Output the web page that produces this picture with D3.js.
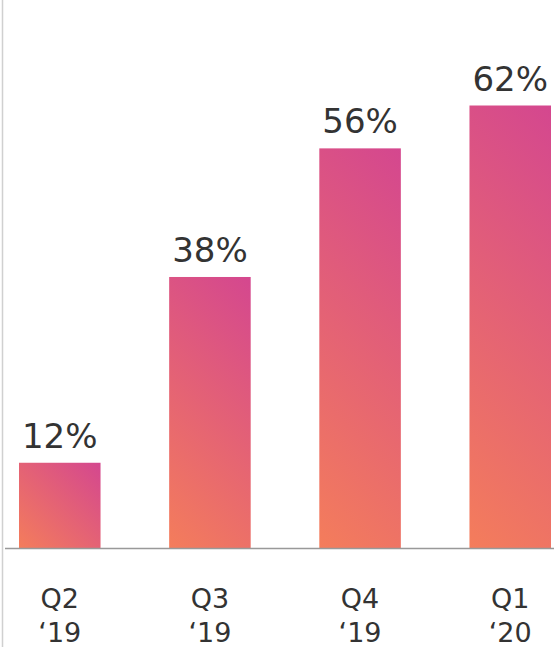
<!DOCTYPE html>
<html>
<head>
<meta charset="utf-8">
<script src="https://cdn.jsdelivr.net/npm/d3@7"></script>
<style>
  body { margin: 0; background: #fff; }
  svg { display: block; }
  text { font-family: "DejaVu Sans", sans-serif; fill: #333; }
</style>
</head>
<body>
<svg width="554" height="647"></svg>
<script>
let quarters = ["Q2", "Q3", "Q4", "Q1"];
let years = ["\u201819", "\u201819", "\u201819", "\u201820"];
let values = [12, 38, 56, 62];

let width = 554, height = 647;
let baseY = 548.5;

let svg = d3.select("svg");
let defs = svg.append("defs");

let x = d3.scaleBand()
    .domain(d3.range(values.length))
    .range([19, 551])
    .paddingInner(0.457)
    .paddingOuter(0);

let y = d3.scaleLinear()
    .domain([0, 62])
    .range([baseY, baseY - 443]);

// one 45 degree gradient per bar, orange at bottom-left, pink at top-right
values.forEach((d, i) => {
  let x0 = x(i), h = baseY - y(d), w = x.bandwidth();
  let s = (w + h) / 2;
  let g = defs.append("linearGradient")
      .attr("id", "grad" + i)
      .attr("gradientUnits", "userSpaceOnUse")
      .attr("x1", x0).attr("y1", baseY)
      .attr("x2", x0 + s).attr("y2", baseY - s);
  g.append("stop").attr("offset", "0%").attr("stop-color", "#f47d5b");
  g.append("stop").attr("offset", "100%").attr("stop-color", "#d4478f");
});

// left frame line
svg.append("line")
    .attr("x1", 2.5).attr("x2", 2.5)
    .attr("y1", 0).attr("y2", height)
    .attr("stroke", "#d0d0d0")
    .attr("stroke-width", 1.5);

let bars = svg.selectAll(".bar")
    .data(values)
    .enter()
    .append("g")
    .attr("class", "bar");

bars.append("rect")
    .attr("x", (d, i) => x(i))
    .attr("y", d => y(d))
    .attr("width", x.bandwidth())
    .attr("height", d => baseY - y(d))
    .attr("fill", (d, i) => "url(#grad" + i + ")");

bars.append("text")
    .attr("x", (d, i) => x(i) + x.bandwidth() / 2)
    .attr("y", d => y(d) - 15)
    .attr("text-anchor", "middle")
    .style("font-size", "34px")
    .text(d => d + "%");

// baseline
svg.append("line")
    .attr("x1", 5).attr("x2", width)
    .attr("y1", baseY).attr("y2", baseY)
    .attr("stroke", "#999")
    .attr("stroke-width", 1.5);

let labels = svg.selectAll(".cat")
    .data(quarters)
    .enter()
    .append("text")
    .attr("class", "cat")
    .attr("text-anchor", "middle")
    .attr("transform", (d, i) => "translate(" + (x(i) + x.bandwidth() / 2) + ",608)")
    .style("font-size", "27px");

labels.append("tspan").attr("x", 0).attr("y", 0).text(d => d);
labels.append("tspan").attr("x", 0).attr("y", 34).text((d, i) => years[i]);
</script>
</body>
</html>
